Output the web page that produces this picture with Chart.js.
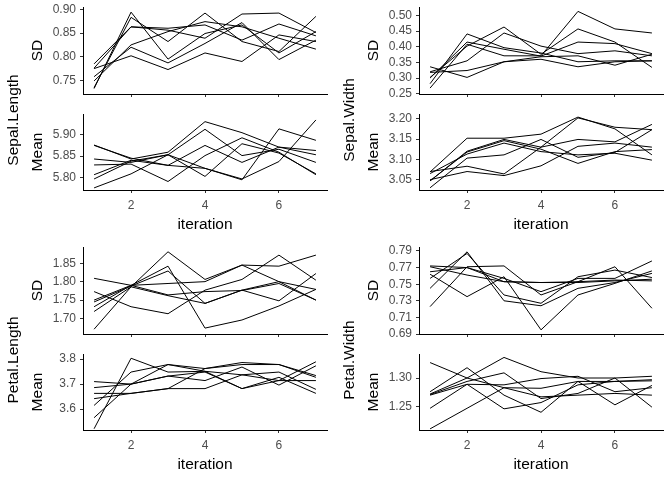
<!DOCTYPE html>
<html><head><meta charset="utf-8">
<script src="https://cdn.jsdelivr.net/npm/chart.js@4.4.1/dist/chart.umd.min.js"></script>
<style>
html,body{margin:0;padding:0;background:#fff;width:672px;height:480px;overflow:hidden;position:relative;font-family:"Liberation Sans",Arial,sans-serif}
canvas{position:absolute}
.vt{position:absolute;transform:translate(-50%,-50%) rotate(-90deg);white-space:nowrap;font-size:15.5px;color:#000;line-height:1;z-index:5}
</style></head><body>
<script>
const iterations = [1,2,3,4,5,6,7];
const iterationTicks = [2,4,6];

const sepalLengthSD = [
  [0.733,0.894,0.795,0.849,0.867,0.808,0.853],
  [0.735,0.883,0.832,0.892,0.832,0.811,0.885],
  [0.776,0.863,0.856,0.839,0.890,0.892,0.851],
  [0.785,0.863,0.860,0.867,0.835,0.869,0.844],
  [0.749,0.825,0.853,0.874,0.863,0.839,0.816],
  [0.758,0.820,0.787,0.828,0.872,0.794,0.835],
  [0.775,0.802,0.773,0.808,0.790,0.846,0.832]
];
const sepalLengthMean = [
  [5.876,5.843,5.859,5.931,5.905,5.871,5.863],
  [5.875,5.845,5.828,5.821,5.794,5.914,5.887],
  [5.843,5.835,5.853,5.913,5.851,5.866,5.835],
  [5.829,5.831,5.790,5.851,5.893,5.859,5.806],
  [5.806,5.840,5.828,5.875,5.835,5.871,5.853],
  [5.796,5.838,5.853,5.802,5.879,5.857,5.808],
  [5.775,5.808,5.853,5.821,5.796,5.837,5.935]
];
const sepalWidthSD = [
  [0.268,0.408,0.371,0.371,0.513,0.457,0.444],
  [0.282,0.441,0.397,0.380,0.352,0.355,0.355],
  [0.302,0.402,0.463,0.376,0.457,0.415,0.334],
  [0.300,0.415,0.392,0.370,0.415,0.410,0.378],
  [0.320,0.355,0.444,0.402,0.378,0.387,0.371],
  [0.336,0.302,0.352,0.368,0.371,0.341,0.376],
  [0.318,0.324,0.352,0.360,0.336,0.352,0.355]
];
const sepalWidthMean = [
  [3.069,3.152,3.152,3.162,3.204,3.175,3.111],
  [3.047,3.120,3.149,3.130,3.202,3.179,3.173],
  [3.047,3.118,3.146,3.125,3.090,3.119,3.124],
  [3.070,3.083,3.064,3.130,3.149,3.143,3.186],
  [3.030,3.103,3.111,3.149,3.105,3.117,3.173],
  [3.050,3.070,3.060,3.084,3.132,3.140,3.130],
  [3.065,3.113,3.140,3.119,3.111,3.115,3.098]
];
const petalLengthSD = [
  [1.671,1.786,1.881,1.806,1.845,1.800,1.779],
  [1.809,1.790,1.795,1.800,1.845,1.842,1.872],
  [1.773,1.732,1.713,1.777,1.806,1.872,1.804],
  [1.750,1.790,1.842,1.674,1.696,1.734,1.779],
  [1.745,1.788,1.829,1.741,1.777,1.800,1.750],
  [1.732,1.790,1.764,1.773,1.776,1.795,1.750],
  [1.719,1.786,1.762,1.741,1.777,1.748,1.822]
];
const petalLengthMean = [
  [3.522,3.803,3.748,3.751,3.682,3.727,3.663],
  [3.566,3.700,3.778,3.762,3.778,3.778,3.734],
  [3.615,3.748,3.778,3.751,3.737,3.748,3.679],
  [3.642,3.663,3.682,3.762,3.786,3.778,3.727],
  [3.663,3.663,3.682,3.682,3.737,3.714,3.789],
  [3.686,3.700,3.732,3.714,3.768,3.696,3.773],
  [3.710,3.700,3.732,3.748,3.682,3.714,3.714]
];
const petalWidthSD = [
  [0.723,0.771,0.772,0.737,0.753,0.771,0.721],
  [0.745,0.789,0.730,0.724,0.745,0.752,0.763],
  [0.757,0.787,0.737,0.727,0.759,0.767,0.758],
  [0.762,0.735,0.759,0.695,0.737,0.751,0.766],
  [0.765,0.770,0.757,0.741,0.757,0.757,0.778],
  [0.772,0.770,0.753,0.752,0.753,0.755,0.754],
  [0.771,0.761,0.753,0.752,0.752,0.754,0.756]
];
const petalWidthMean = [
  [1.327,1.300,1.283,1.282,1.294,1.294,1.297],
  [1.276,1.318,1.270,1.240,1.294,1.253,1.287],
  [1.272,1.300,1.336,1.311,1.300,1.300,1.249],
  [1.271,1.294,1.309,1.264,1.273,1.300,1.303],
  [1.270,1.289,1.288,1.299,1.303,1.276,1.283],
  [1.247,1.289,1.246,1.257,1.288,1.294,1.295],
  [1.211,1.247,1.283,1.267,1.270,1.273,1.270]
];

const sepalLengthSDTicks = ['0.75','0.80','0.85','0.90'];
const sepalLengthMeanTicks = ['5.80','5.85','5.90'];
const sepalWidthSDTicks = ['0.25','0.30','0.35','0.40','0.45','0.50'];
const sepalWidthMeanTicks = ['3.05','3.10','3.15','3.20'];
const petalLengthSDTicks = ['1.70','1.75','1.80','1.85'];
const petalLengthMeanTicks = ['3.6','3.7','3.8'];
const petalWidthSDTicks = ['0.69','0.71','0.73','0.75','0.77','0.79'];
const petalWidthMeanTicks = ['1.25','1.30'];

const FAMILY = '"Liberation Sans", Arial, sans-serif';
const TITLE_SIZE = 15.5;

function makeChart(o){
  const padTop = 20;
  const xh = o.showX ? 50 : 20;
  const w = 336, h = Math.round(o.bottom - o.top + padTop + xh);
  const c = document.createElement('canvas');
  c.width = w; c.height = h;
  c.style.left = o.col + 'px'; c.style.top = (o.top - padTop) + 'px';
  c.style.width = w + 'px'; c.style.height = h + 'px';
  document.body.appendChild(c);
  new Chart(c, {
    type: 'line',
    data: { datasets: o.series.map(s => ({
      data: s.map((v, i) => ({x: iterations[i], y: v})),
      borderColor: '#000', borderWidth: 1, pointRadius: 0, fill: false, tension: 0
    })) },
    options: {
      responsive: false, animation: false, events: [], devicePixelRatio: 1,
      layout: { padding: { top: padTop, left: 0, right: o.col + 336 - o.right, bottom: 0 } },
      plugins: { legend: { display: false }, tooltip: { enabled: false } },
      scales: {
        x: {
          type: 'linear', min: 0.7, max: 7.3,
          afterBuildTicks: s => { s.ticks = iterationTicks.map(v => ({value: v})); },
          afterFit: s => { s.height = xh; },
          border: { display: true, color: '#000', width: 1 },
          grid: { drawOnChartArea: false, drawTicks: true, tickLength: 3, color: '#333333' },
          ticks: { color: '#4D4D4D', font: { size: 12, family: FAMILY }, padding: 5, maxRotation: 0,
                   callback: (v, i) => o.showX ? String(iterationTicks[i]) : '' },
          title: { display: o.showX, text: 'iteration', color: '#000',
                   font: { size: TITLE_SIZE, family: FAMILY }, padding: { top: 0, bottom: 5.5 } }
        },
        y: {
          type: 'linear', min: o.min, max: o.max,
          afterBuildTicks: s => { s.ticks = o.ticks.map(t => ({value: parseFloat(t)})); },
          afterFit: s => { s.width = 83; },
          border: { display: true, color: '#000', width: 1 },
          grid: { drawOnChartArea: false, drawTicks: true, tickLength: 3, color: '#333333' },
          ticks: { color: '#4D4D4D', font: { size: 12, family: FAMILY }, padding: 4,
                   callback: (v, i) => o.ticks[i] },
          title: { display: true, text: o.title, color: '#000',
                   font: { size: TITLE_SIZE, family: FAMILY }, padding: { top: 28.5, bottom: 0 } }
        }
      }
    }
  });
}

const L = 0, R = 336;
makeChart({col: L, right: 327, top: 7, bottom: 94, min: 0.7215, max: 0.9048, series: sepalLengthSD, ticks: sepalLengthSDTicks, title: 'SD', showX: false});
makeChart({col: L, right: 327, top: 114, bottom: 190, min: 5.770, max: 5.949, series: sepalLengthMean, ticks: sepalLengthMeanTicks, title: 'Mean', showX: true});
makeChart({col: R, right: 663, top: 7, bottom: 94, min: 0.249, max: 0.527, series: sepalWidthSD, ticks: sepalWidthSDTicks, title: 'SD', showX: false});
makeChart({col: R, right: 663, top: 114, bottom: 190, min: 3.0245, max: 3.2116, series: sepalWidthMean, ticks: sepalWidthMeanTicks, title: 'Mean', showX: true});
makeChart({col: L, right: 327, top: 247, bottom: 334, min: 1.658, max: 1.894, series: petalLengthSD, ticks: petalLengthSDTicks, title: 'SD', showX: false});
makeChart({col: L, right: 327, top: 354, bottom: 430, min: 3.517, max: 3.82, series: petalLengthMean, ticks: petalLengthMeanTicks, title: 'Mean', showX: true});
makeChart({col: R, right: 663, top: 247, bottom: 334, min: 0.69, max: 0.7948, series: petalWidthSD, ticks: petalWidthSDTicks, title: 'SD', showX: false});
makeChart({col: R, right: 663, top: 354, bottom: 430, min: 1.209, max: 1.342, series: petalWidthMean, ticks: petalWidthMeanTicks, title: 'Mean', showX: true});

const variableLabels = [
  {text: 'Sepal.Length', x: 13.3, y: 119.5},
  {text: 'Sepal.Width', x: 349.3, y: 119.5},
  {text: 'Petal.Length', x: 13.3, y: 359.5},
  {text: 'Petal.Width', x: 349.3, y: 359.5}
];
variableLabels.forEach(v => {
  const d = document.createElement('div');
  d.className = 'vt'; d.textContent = v.text;
  d.style.left = v.x + 'px'; d.style.top = v.y + 'px';
  document.body.appendChild(d);
});
</script>
</body></html>
